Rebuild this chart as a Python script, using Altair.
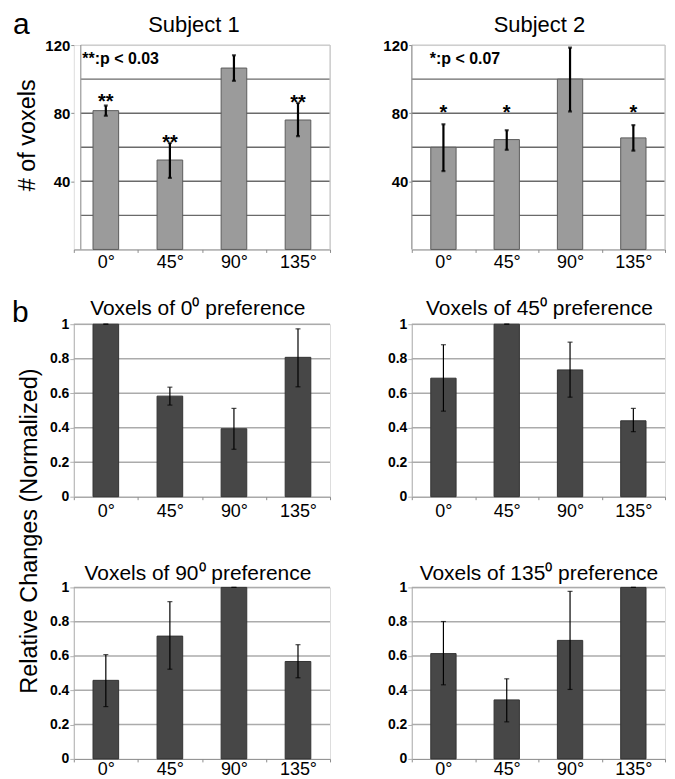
import altair as alt
import pandas as pd

FONT = "Liberation Sans"

angles = ["0°", "45°", "90°", "135°"]

# ---- panel a: number of voxels (mean, error low, error high) ----
s1_vals = [81.5, 52.5, 106.5, 76.0]
s1_lo = [78.5, 42.0, 99.0, 66.5]
s1_hi = [84.5, 62.5, 114.0, 86.0]
s1_star_angles = ["0°", "45°", "135°"]
s1_star_y = [89.7, 65.6, 89.0]

s2_vals = [60.0, 64.5, 100.0, 65.5]
s2_lo = [46.0, 58.5, 81.0, 58.0]
s2_hi = [73.5, 70.0, 118.5, 73.0]
s2_star_angles = ["0°", "45°", "135°"]
s2_star_y = [83.3, 83.3, 83.3]

# ---- panel b: relative changes (normalized) ----
p0_vals = [1.0, 0.583, 0.394, 0.808]
p0_lo = [1.0, 0.531, 0.275, 0.637]
p0_hi = [1.0, 0.635, 0.512, 0.973]

p45_vals = [0.687, 1.0, 0.735, 0.440]
p45_lo = [0.496, 1.0, 0.577, 0.377]
p45_hi = [0.881, 1.0, 0.896, 0.512]

p90_vals = [0.458, 0.716, 1.0, 0.568]
p90_lo = [0.305, 0.523, 1.0, 0.473]
p90_hi = [0.608, 0.917, 1.0, 0.666]

p135_vals = [0.614, 0.344, 0.691, 1.0]
p135_lo = [0.432, 0.216, 0.405, 1.0]
p135_hi = [0.801, 0.467, 0.977, 1.0]

top_grid = [20, 40, 60, 80, 100]
top_frame = [120]
top_ticks = [40, 80, 120]
bottom_grid = [0.2, 0.4, 0.6, 0.8, 1.0]
bottom_ticks = [0, 0.2, 0.4, 0.6, 0.8, 1]


def label_layer(text, x, y, size, weight="normal", align="center", angle=0):
    return alt.Chart(pd.DataFrame({"t": [text]})).mark_text(
        font=FONT, fontSize=size, fontWeight=weight, align=align,
        baseline="alphabetic", color="black", angle=angle
    ).encode(x=alt.value(x), y=alt.value(y), text="t:N")


def panel(vals, lo, hi, *, top, width, height, title, title_x, title_y,
          grid_x0=0, ytitle=None, ytitle_x=0, ytitle_y=0,
          star_angles=None, star_y=None, star_text="", note=None, note_x=0,
          letter=None, letter_x=0, letter_y=0, label_pad=15.4):
    df = pd.DataFrame({"angle": angles, "v": vals, "lo": lo, "hi": hi})
    xscale = alt.Scale(domain=angles, paddingInner=0, paddingOuter=0)
    axis_col = "#8c8c8c"
    xaxis = alt.Axis(title=None, labelFont=FONT, labelFontSize=18, labelColor="black",
                     labelAngle=0, labelBaseline="alphabetic", labelPadding=label_pad,
                     tickSize=3, tickColor=axis_col, domainColor=axis_col,
                     tickBand="extent", grid=False)
    ytitle_kw = dict(titleFont=FONT, titleFontSize=23.5, titleFontWeight="normal",
                     titleColor="black", titleX=ytitle_x, titleY=ytitle_y,
                     titleAngle=270, titleAlign="center", titleBaseline="alphabetic")
    if top:
        yscale = alt.Scale(domain=[0, 120], nice=False, zero=True)
        yaxis = alt.Axis(values=top_ticks, labelFont=FONT, labelFontSize=15,
                         labelFontWeight="bold", labelColor="black", tickSize=3,
                         tickColor=axis_col, domain=False, grid=False, labelPadding=1,
                         labelFlush=False, title=ytitle if ytitle else "", **ytitle_kw)
        bar_fill, bar_stroke = "#9b9b9b", "#5c5c5c"
        grid_col = "#6a6a6a"
        gvals = top_grid
        err_w, cap_w, cap_t = 2.2, 4, 2.2
    else:
        yscale = alt.Scale(domain=[0, 1], nice=False, zero=True)
        yaxis = alt.Axis(values=bottom_ticks, format="~g", labelFont=FONT,
                         labelFontSize=14, labelFontWeight="bold", labelColor="black",
                         tickSize=4, tickColor="#b4b4b4", domainColor="#b4b4b4",
                         grid=False, labelPadding=1, labelFlush=False,
                         title=ytitle if ytitle else "", **ytitle_kw)
        bar_fill, bar_stroke = "#474747", "#333333"
        grid_col = "#ababab"
        gvals = bottom_grid
        err_w, cap_w, cap_t = 1.2, 5, 1.2

    X = lambda: alt.X("angle:N", sort=angles, scale=xscale, axis=xaxis)
    Y = lambda f: alt.Y(f, scale=yscale, axis=yaxis)

    base = alt.Chart(df)
    layers = []
    bars = base.mark_bar(width=alt.RelativeBandSize(0.4), fill=bar_fill,
                         stroke=bar_stroke, strokeWidth=1).encode(x=X(), y=Y("v:Q"))
    grid = alt.Chart(pd.DataFrame({"g": gvals})).mark_rule(
        color=grid_col, strokeWidth=1.5
    ).encode(y=Y("g:Q"), x=alt.value(grid_x0), x2=alt.value(width))
    layers.append(grid)
    if top:
        frame_top = alt.Chart(pd.DataFrame({"g": top_frame})).mark_rule(
            color="#c8c8c8", strokeWidth=1.2
        ).encode(y=Y("g:Q"), x=alt.value(grid_x0), x2=alt.value(width))
        frame_right = alt.Chart(pd.DataFrame({"g": top_frame})).mark_rule(
            color="#c8c8c8", strokeWidth=1.2
        ).encode(x=alt.value(width), y=alt.value(0), y2=alt.value(height))
        frame_left = alt.Chart(pd.DataFrame({"g": top_frame})).mark_rule(
            color="#999999", strokeWidth=1.2
        ).encode(x=alt.value(grid_x0), y=alt.value(0), y2=alt.value(height))
        layers += [frame_top, frame_right, frame_left]

    layers.append(bars)
    err = base.mark_rule(color="black", strokeWidth=err_w).encode(
        x=X(), y=Y("lo:Q"), y2="hi:Q")
    cap_lo = base.mark_tick(color="black", size=cap_w, thickness=cap_t).encode(
        x=X(), y=Y("lo:Q"))
    cap_hi = base.mark_tick(color="black", size=cap_w, thickness=cap_t).encode(
        x=X(), y=Y("hi:Q"))
    layers += [err, cap_lo, cap_hi]

    if star_angles:
        sdf = pd.DataFrame({"angle": star_angles, "sy": star_y,
                            "st": [star_text] * len(star_angles)})
        stars = alt.Chart(sdf).mark_text(font=FONT, fontSize=20, fontWeight="bold",
                                         baseline="alphabetic", dy=11, color="black").encode(
            x=X(), y=Y("sy:Q"), text="st:N")
        layers.append(stars)
    if note:
        layers.append(label_layer(note, note_x, 19, 16, weight="bold", align="left"))
    layers.append(label_layer(title, title_x, title_y, 22 if top else 21))
    if letter:
        layers.append(label_layer(letter, letter_x, letter_y, 30, align="left"))

    return alt.layer(*layers).properties(width=width, height=height)


tl = panel(s1_vals, s1_lo, s1_hi, top=True, width=257, height=205,
           title="Subject 1", title_x=120.5, title_y=-13, grid_x0=7,
           ytitle="# of voxels", ytitle_x=-39, ytitle_y=90,
           star_angles=s1_star_angles, star_y=s1_star_y, star_text="**",
           note="**:p < 0.03", note_x=8.5, letter="a", letter_x=-61, letter_y=-11,
           label_pad=15.4)
tr = panel(s2_vals, s2_lo, s2_hi, top=True, width=254, height=205,
           title="Subject 2", title_x=128, title_y=-13, grid_x0=0,
           star_angles=s2_star_angles, star_y=s2_star_y, star_text="*",
           note="*:p < 0.07", note_x=18, label_pad=15.4)

b1 = panel(p0_vals, p0_lo, p0_hi, top=False, width=257, height=173,
           title="Voxels of 0⁰ preference", title_x=124.3, title_y=-9,
           ytitle="Relative Changes (Normalized)", ytitle_x=-37, ytitle_y=207,
           letter="b", letter_x=-62, letter_y=-2, label_pad=17)
b2 = panel(p45_vals, p45_lo, p45_hi, top=False, width=254, height=173,
           title="Voxels of 45⁰ preference", title_x=128, title_y=-9, label_pad=17)
b3 = panel(p90_vals, p90_lo, p90_hi, top=False, width=257, height=172,
           title="Voxels of 90⁰ preference", title_x=124.5, title_y=-7, label_pad=12.8)
b4 = panel(p135_vals, p135_lo, p135_hi, top=False, width=254, height=172,
           title="Voxels of 135⁰ preference", title_x=127.5, title_y=-7.5, label_pad=12.8)

top_row = alt.hconcat(tl, tr, spacing=82, bounds="flush")
bottom_grid = alt.concat(b1, b2, b3, b4, columns=2,
                         spacing={"row": 91, "column": 82}, bounds="flush")

chart = alt.vconcat(top_row, bottom_grid, spacing=280, bounds="flush").properties(
    padding={"left": 3, "top": 0, "right": 0, "bottom": 0}
).configure_view(strokeWidth=0).configure(font=FONT)

chart.save("out.html", embed_options={"renderer": "svg", "actions": False})
